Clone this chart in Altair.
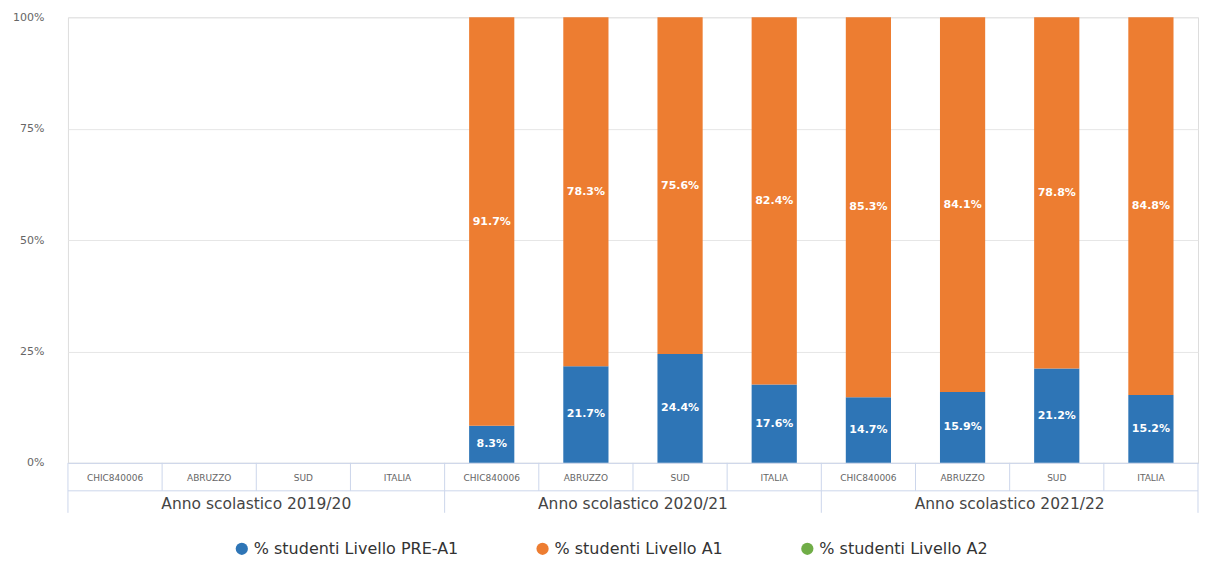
import altair as alt
import pandas as pd

years = ["2019/20", "2020/21", "2021/22"]
regions = ["CHIC840006", "ABRUZZO", "SUD", "ITALIA"]
series = ["% studenti Livello PRE-A1", "% studenti Livello A1", "% studenti Livello A2"]
colors = ["#2e75b6", "#ed7d31", "#70ad47"]
pre_a1 = [None, None, None, None, 8.3, 21.7, 24.4, 17.6, 14.7, 15.9, 21.2, 15.2]
a1 = [None, None, None, None, 91.7, 78.3, 75.6, 82.4, 85.3, 84.1, 78.8, 84.8]
a2 = [None, None, None, None, None, None, None, None, None, None, None, None]

W, H = 1131, 446

keys = [f"{y}|{r}" for y in years for r in regions]
rows = []
for i, k in enumerate(keys):
    for j, (s, vals) in enumerate(zip(series, [pre_a1, a1, a2])):
        if vals[i] is not None:
            rows.append({"key": k, "series": s, "value": vals[i], "ord": j})
df = pd.DataFrame(rows)
keys_df = pd.DataFrame({"key": keys})
group_start = pd.DataFrame({"key": [f"{y}|{regions[0]}" for y in years]})
group_mid = pd.DataFrame({"key": [f"{y}|{regions[1]}" for y in years],
                          "label": [f"Anno scolastico {y}" for y in years]})
last_df = pd.DataFrame({"key": [keys[-1]]})

xscale = alt.Scale(domain=keys, paddingInner=0, paddingOuter=0)

bars = alt.Chart(df).mark_bar(width=alt.RelativeBandSize(0.48)).encode(
    x=alt.X("key:N", scale=xscale,
            axis=alt.Axis(title=None, labelExpr="split(datum.value, '|')[1]",
                          labelAngle=0, ticks=False, domain=True, domainColor="#ccd6eb",
                          labelFontSize=9, labelColor="#666666", labelPadding=11, grid=False)),
    y=alt.Y("value:Q", stack="zero", scale=alt.Scale(domain=[0, 100]),
            axis=alt.Axis(title=None, values=[0, 25, 50, 75, 100],
                          labelExpr="datum.value + '%'", domain=False, ticks=False,
                          gridColor="#e6e6e6", labelColor="#666666", labelFontSize=11,
                          labelPadding=24)),
    color=alt.Color("series:N", scale=alt.Scale(domain=series, range=colors),
                    legend=alt.Legend(title=None, orient="none", direction="horizontal",
                                      legendX=166, legendY=524, symbolType="circle",
                                      symbolSize=150, labelFontSize=16, labelColor="#333333",
                                      labelLimit=400, columnPadding=76, symbolStrokeWidth=0)),
    order=alt.Order("ord:Q"),
)

labels = alt.Chart(df).transform_stack(
    stack="value", groupby=["key"], sort=[alt.SortField("ord")], as_=["v0", "v1"]
).transform_calculate(
    mid="(datum.v0 + datum.v1) / 2", lab="format(datum.value, '.1f') + '%'"
).mark_text(color="white", fontWeight="bold", fontSize=11).encode(
    x=alt.X("key:N", scale=xscale), y=alt.Y("mid:Q"), text="lab:N"
)

region_div = alt.Chart(keys_df).mark_rule(color="#ccd6eb").encode(
    x=alt.X("key:N", scale=xscale, bandPosition=0), y=alt.value(H), y2=alt.value(H + 28)
)
region_end = alt.Chart(last_df).mark_rule(color="#ccd6eb").encode(
    x=alt.X("key:N", scale=xscale, bandPosition=1), y=alt.value(H), y2=alt.value(H + 50)
)
hline = alt.Chart(last_df).mark_rule(color="#ccd6eb").encode(
    x=alt.value(0), x2=alt.value(W), y=alt.value(H + 28)
)
group_div = alt.Chart(group_start).mark_rule(color="#ccd6eb").encode(
    x=alt.X("key:N", scale=xscale, bandPosition=0), y=alt.value(H + 28), y2=alt.value(H + 50)
)
group_lab = alt.Chart(group_mid).mark_text(fontSize=15.5, color="#444444").encode(
    x=alt.X("key:N", scale=xscale, bandPosition=1), y=alt.value(H + 41), text="label:N"
)

chart = alt.layer(bars, labels, region_div, region_end, hline, group_div, group_lab).properties(
    width=W, height=H, padding={"top": 3, "left": 4, "right": 0, "bottom": 0}
).configure_view(stroke=None).configure(font="DejaVu Sans")

chart.save("out.html", embed_options={"renderer": "svg", "actions": False})
